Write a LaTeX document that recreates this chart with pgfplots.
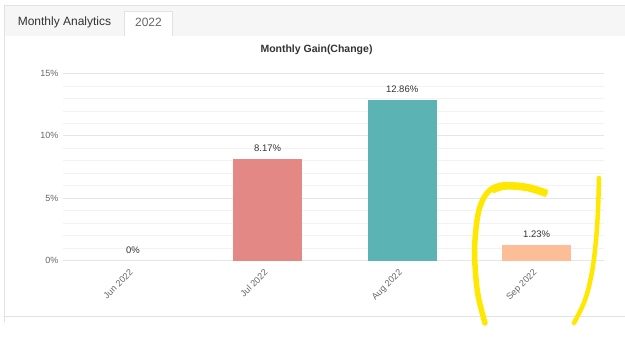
\documentclass[border=0pt]{standalone}
\usepackage{fontspec}
\setmainfont{Liberation Sans}
\usepackage{pgfplots}
\pgfplotsset{compat=1.18}
\definecolor{julc}{HTML}{E38885}
\definecolor{augc}{HTML}{5BB4B3}
\definecolor{sepc}{HTML}{FDBE97}
\definecolor{gridmaj}{HTML}{E6E6E6}
\definecolor{gridmin}{HTML}{F2F2F2}
\definecolor{tabbg}{HTML}{F6F6F6}
\definecolor{bord}{HTML}{E2E2E2}
\definecolor{ylw}{HTML}{FFE800}
\definecolor{ticktxt}{HTML}{666666}
\definecolor{lbltxt}{HTML}{333333}
\begin{document}
\begin{tikzpicture}
\useasboundingbox (0,0) rectangle (625pt,360pt);
\fill[white] (0,0) rectangle (625pt,360pt);
\begin{scope}[x=1pt,y=-1pt,shift={(0pt,360pt)}]
  \fill[tabbg] (5,5) rectangle (625,36);
  \draw[bord] (5,5) -- (625,5);
  \fill[white] (124,11) rectangle (172,36.6);
  \draw[bord] (124,36) -- (124,11) -- (172,11) -- (172,36);
  \draw[bord] (4.5,5) -- (4.5,322);
  \draw[bord] (4.5,316) -- (625,316);
  \node[text=lbltxt, font=\fontsize{12}{14}\selectfont] at (64.5,22.5) {Monthly Analytics};
  \node[text=ticktxt, font=\fontsize{12}{14}\selectfont] at (148.5,22.5) {2022};
  \node[text=lbltxt, font=\fontsize{10.5}{12}\selectfont\bfseries] at (316.5,50) {Monthly Gain(Change)};
\end{scope}
\begin{axis}[
  at={(63pt,99.5pt)}, anchor=south west,
  scale only axis, width=541pt, height=187pt,
  xmin=-0.52, xmax=3.5, ymin=0, ymax=15,
  axis line style={draw=none},
  major tick length=0pt, minor tick length=0pt,
  ytick={0,5,10,15}, minor ytick={1,2,3,4,6,7,8,9,11,12,13,14},
  ymajorgrids, yminorgrids,
  major grid style={gridmaj, line width=0.8pt},
  minor grid style={gridmin, line width=0.8pt},
  xtick={0,1,2,3},
  xticklabels={Jun 2022,Jul 2022,Aug 2022,Sep 2022},
  /pgf/number format/assume math mode=true,
  yticklabel={\pgfmathprintnumber{\tick}\%},
  y tick label style={font=\fontsize{9}{10}\selectfont, text=ticktxt, xshift=-1pt},
  x tick label style={yshift=-8pt, xshift=-4pt, rotate=45, anchor=north east, inner sep=0pt, font=\fontsize{9}{10}\selectfont, text=ticktxt},
  ybar,
  bar width=69pt,
  nodes near coords={\pgfmathprintnumber[fixed,precision=2]{\pgfplotspointmeta}\%},
  every node near coord/.append style={font=\fontsize{9.5}{11}\selectfont, text=lbltxt, inner sep=0pt, yshift=7pt, anchor=south},
  clip=false,
]
\addplot[bar shift=0pt, draw=none, fill=none] coordinates {(0,0)};
\addplot[bar shift=0pt, draw=none, fill=julc] coordinates {(1,8.17)};
\addplot[bar shift=0pt, draw=none, fill=augc] coordinates {(2,12.86)};
\addplot[bar shift=0pt, draw=none, fill=sepc] coordinates {(3,1.23)};
\end{axis}
\begin{scope}[x=1pt,y=-1pt,shift={(0pt,360pt)}]
  \draw[ylw, line width=5.5pt, line cap=round, line join=round]
    plot[smooth, tension=0.6] coordinates {(545,193) (527,187) (503,185) (488,192) (479,210) (475,240) (475,265) (478,295) (485,323)};
  \draw[ylw, line width=7.5pt, line cap=butt]
    plot[smooth, tension=0.6] coordinates {(547,193.5) (527,187.5) (505,186) (492,190)};
  \draw[ylw, line width=4.5pt, line cap=round]
    plot[smooth, tension=0.6] coordinates {(599,178) (598,210) (596,240) (592,272) (585,300) (574,323)};
\end{scope}
\end{tikzpicture}
\end{document}
